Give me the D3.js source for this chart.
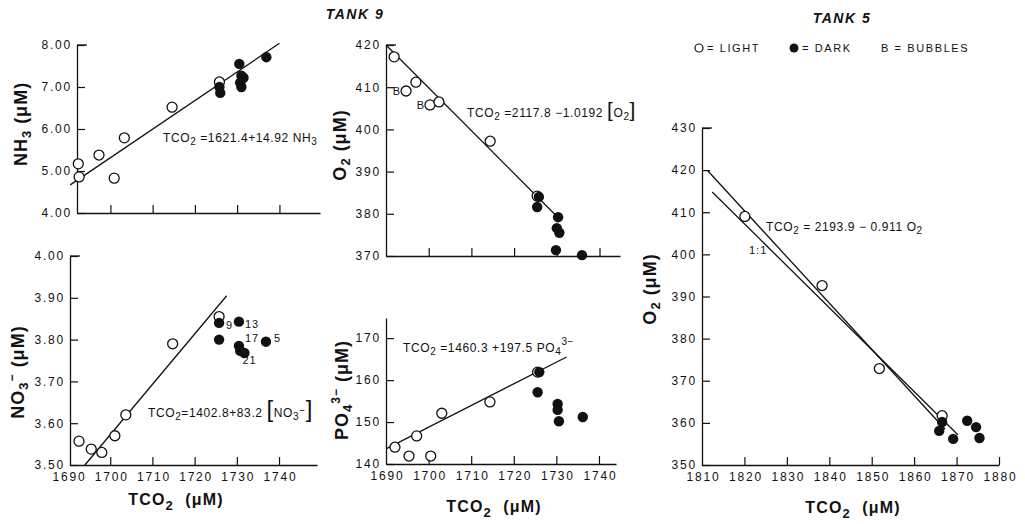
<!DOCTYPE html>
<html><head><meta charset="utf-8">
<script src="https://cdn.jsdelivr.net/npm/d3@7"></script>
<style>
body{margin:0;background:#fff;}
text{font-family:"Liberation Sans",Arial,sans-serif;fill:#111;}
</style></head>
<body>
<svg id="chart" width="1025" height="524"></svg>
<script>
// ---------- DATA ----------
// Tank 9, NH3 vs TCO2
const nh3LightTCO2 = [1692.4, 1692.6, 1697.3, 1700.9, 1703.3, 1714.6, 1725.8];
const nh3LightVal  = [5.17, 4.86, 5.38, 4.83, 5.79, 6.52, 7.12];
const nh3DarkTCO2  = [1725.8, 1726.0, 1730.5, 1731.0, 1731.5, 1730.7, 1731.0, 1736.9];
const nh3DarkVal   = [7.00, 6.86, 7.55, 7.27, 7.22, 7.10, 7.00, 7.71];
const nh3FitTCO2   = [1690.5, 1740.0];
const nh3FitVal    = [4.67, 8.04];

// Tank 9, NO3 vs TCO2
const no3LightTCO2 = [1692.6, 1695.5, 1698.0, 1701.1, 1703.7, 1714.8, 1725.8];
const no3LightVal  = [3.557, 3.538, 3.530, 3.570, 3.620, 3.790, 3.855];
const no3DarkTCO2  = [1725.8, 1725.8, 1730.5, 1730.5, 1730.8, 1731.8, 1736.9];
const no3DarkVal   = [3.840, 3.800, 3.843, 3.785, 3.773, 3.768, 3.795];
const no3DarkLabel = ["9", "", "13", "17", "", "21", "5"];
const no3FitTCO2   = [1694.0, 1727.6];
const no3FitVal    = [3.500, 3.905];

// Tank 9, O2 vs TCO2
const o2LightTCO2  = [1691.9, 1694.7, 1697.0, 1700.3, 1702.4, 1714.4, 1725.4];
const o2LightVal   = [417.2, 409.1, 411.2, 405.8, 406.5, 397.2, 384.2];
const o2LightLabel = ["", "B", "", "B", "", "", ""];
const o2DarkTCO2   = [1725.8, 1725.4, 1730.3, 1730.0, 1730.6, 1729.8, 1735.9];
const o2DarkVal    = [384.0, 381.6, 379.2, 376.6, 375.5, 371.4, 370.2];
const o2FitTCO2    = [1690.0, 1730.8];
const o2FitVal     = [420.0, 378.6];

// Tank 9, PO4 vs TCO2
const po4LightTCO2 = [1692.1, 1695.4, 1697.2, 1700.5, 1703.1, 1714.4, 1725.6];
const po4LightVal  = [144.0, 141.9, 146.7, 141.9, 152.1, 154.8, 161.9];
const po4DarkTCO2  = [1726.0, 1725.6, 1730.3, 1730.3, 1730.6, 1736.2];
const po4DarkVal   = [161.9, 157.1, 154.3, 152.9, 150.2, 151.2];
const po4FitTCO2   = [1690.0, 1732.4];
const po4FitVal    = [143.6, 165.5];

// Tank 5, O2 vs TCO2
const t5LightTCO2  = [1820.1, 1838.3, 1851.8, 1866.6];
const t5LightVal   = [409.0, 392.6, 372.9, 361.7];
const t5DarkTCO2   = [1866.6, 1865.9, 1869.2, 1872.5, 1874.6, 1875.4];
const t5DarkVal    = [360.2, 358.1, 356.2, 360.5, 359.0, 356.4];
const t5FitTCO2    = [1811.4, 1867.3];
const t5FitVal     = [419.8, 358.5];
const t5OneTCO2    = [1812.4, 1870.3];
const t5OneVal     = [414.8, 357.2];

// Tick labels
const tank9XTicks  = [1690, 1700, 1710, 1720, 1730, 1740];
const tank5XTicks  = [1810, 1820, 1830, 1840, 1850, 1860, 1870, 1880];
const nh3YTicks    = [4, 5, 6, 7, 8];
const no3YTicks    = [3.5, 3.6, 3.7, 3.8, 3.9, 4.0];
const o2YTicks     = [370, 380, 390, 400, 410, 420];
const po4YTicks    = [140, 150, 160, 170];
const t5YTicks     = [350, 360, 370, 380, 390, 400, 410, 420, 430];

// ---------- DRAW ----------
const svg = d3.select("#chart");
const zip = (a, b, c) => a.map((v, i) => ({x: v, y: b[i], l: c ? c[i] : ""}));

function panel(cfg) {
  const g = svg.append("g");
  const x = d3.scaleLinear().domain(cfg.xd).range(cfg.xr);
  const y = d3.scaleLinear().domain(cfg.yd).range(cfg.yr);
  const ya = d3.axisLeft(y).tickValues(cfg.yt).tickSizeInner(-8).tickSizeOuter(0)
    .tickPadding(5).tickFormat(cfg.yf);
  const yg = g.append("g").attr("transform", `translate(${cfg.xr[0]},0)`).call(ya);
  const xa = d3.axisBottom(x).tickValues(cfg.xt).tickSizeInner(-8).tickSizeOuter(0)
    .tickPadding(7).tickFormat(cfg.xlabels ? d3.format("d") : () => "");
  const xg = g.append("g").attr("transform", `translate(0,${cfg.yr[0]})`).call(xa);
  [yg, xg].forEach(a => {
    a.attr("font-size", 12);
    a.select(".domain").attr("stroke", "#111").attr("stroke-width", 1.3);
    a.selectAll(".tick line").attr("stroke", "#111").attr("stroke-width", 1.2);
    a.selectAll(".tick text").style("font-size", "12px").style("letter-spacing", "1.8px")
      .style("font-family", "'Liberation Sans',Arial,sans-serif").attr("fill", "#111");
  });
  xg.selectAll(".tick text").attr("dx", 1);
  xg.selectAll(".tick").filter(d => x(d) <= cfg.xr[0] + 1).select("line").remove();
  if (cfg.cap) {
    g.append("line").attr("x1", cfg.xr[0]).attr("x2", cfg.xr[0] + 10)
      .attr("y1", cfg.yr[1]).attr("y2", cfg.yr[1]).attr("stroke", "#111").attr("stroke-width", 1.3);
  }
  const line = d3.line().x(d => x(d.x)).y(d => y(d.y));
  cfg.fits.forEach(f => {
    g.append("path").datum(zip(f[0], f[1])).attr("d", line)
      .attr("fill", "none").attr("stroke", "#111").attr("stroke-width", 1.3);
  });
  g.selectAll("circle.l").data(zip(cfg.light[0], cfg.light[1], cfg.light[2])).enter()
    .append("circle").attr("cx", d => x(d.x)).attr("cy", d => y(d.y)).attr("r", 5)
    .attr("fill", "#fff").attr("stroke", "#111").attr("stroke-width", 1.3);
  g.selectAll("circle.d").data(zip(cfg.dark[0], cfg.dark[1], cfg.dark[2])).enter()
    .append("circle").attr("cx", d => x(d.x)).attr("cy", d => y(d.y)).attr("r", 5.2)
    .attr("fill", "#111");
  return {g, x, y};
}

function eqText(x, y, parts, size) {
  const t = svg.append("text").attr("x", x).attr("y", y)
    .style("font-size", (size || 12) + "px").style("letter-spacing", "0.6px");
  parts.forEach(p => {
    const s = t.append("tspan").text(p.t);
    if (p.sub) s.attr("dy", 3).style("font-size", "10px");
    if (p.sup) s.attr("dy", -6).style("font-size", "10px");
    if (p.back) s.attr("dy", p.back);
    if (p.big) s.style("font-size", p.big + "px").style("font-weight", "300");
  });
  return t;
}

function yTitle(x, y, parts, size) {
  const t = svg.append("text").attr("transform", `translate(${x},${y}) rotate(-90)`)
    .attr("text-anchor", "middle").style("font-size", (size || 18) + "px")
    .style("font-weight", "bold").style("letter-spacing", "1px");
  parts.forEach(p => {
    const s = t.append("tspan").text(p.t);
    if (p.sub) s.attr("dy", 4).style("font-size", "13px");
    if (p.sup) s.attr("dy", p.sup).style("font-size", "12px");
    if (p.dy) s.attr("dy", p.dy);
  });
}
function xTitle(x, y) {
  const t = svg.append("text").attr("x", x).attr("y", y).attr("text-anchor", "middle")
    .style("font-size", "16px").style("font-weight", "bold").style("letter-spacing", "1.2px");
  t.append("tspan").text("TCO");
  t.append("tspan").text("2").attr("dy", 5).style("font-size", "13px");
  t.append("tspan").text("\u00a0\u00a0(\u03bcM)").attr("dy", -5);
}

// Top-left NH3
panel({xd: [1692.1, 1749.6], xr: [77, 320], yd: [4, 8], yr: [213, 45], cap: true,
  xt: tank9XTicks.slice(1), yt: nh3YTicks, yf: d3.format(".2f"), xlabels: false,
  fits: [[nh3FitTCO2, nh3FitVal]], light: [nh3LightTCO2, nh3LightVal], dark: [nh3DarkTCO2, nh3DarkVal]});

// Bottom-left NO3
const pNO3 = panel({xd: [1690.47, 1749.0], xr: [70, 317], yd: [3.5, 4.0], yr: [465, 256], cap: true,
  xt: tank9XTicks, yt: no3YTicks, yf: d3.format(".2f"), xlabels: true,
  fits: [[no3FitTCO2, no3FitVal]], light: [no3LightTCO2, no3LightVal], dark: [no3DarkTCO2, no3DarkVal, no3DarkLabel]});
const no3Off = {"9": [7, 6], "13": [6, 6], "17": [6, -4], "21": [-2, 11], "5": [8, 0]};
pNO3.g.selectAll("text.lab").data(zip(no3DarkTCO2, no3DarkVal, no3DarkLabel).filter(d => d.l)).enter()
  .append("text").attr("x", d => pNO3.x(d.x) + no3Off[d.l][0]).attr("y", d => pNO3.y(d.y) + no3Off[d.l][1])
  .style("font-size", "11px").style("letter-spacing", "1px").text(d => d.l);

// Top-middle O2
const pO2 = panel({xd: [1690, 1744.8], xr: [386, 620], yd: [370, 420], yr: [256, 45], cap: true,
  xt: tank9XTicks.slice(1), yt: o2YTicks, yf: d3.format("d"), xlabels: false,
  fits: [[o2FitTCO2, o2FitVal]], light: [o2LightTCO2, o2LightVal, o2LightLabel], dark: [o2DarkTCO2, o2DarkVal]});
pO2.g.selectAll("text.b").data(zip(o2LightTCO2, o2LightVal, o2LightLabel).filter(d => d.l)).enter()
  .append("text").attr("x", d => pO2.x(d.x) - 6).attr("y", d => pO2.y(d.y) + 4)
  .attr("text-anchor", "end").style("font-size", "11px").text(d => d.l);

// Bottom-middle PO4
panel({xd: [1690, 1744], xr: [386, 616], yd: [140, 174.8], yr: [464, 318], cap: false,
  xt: tank9XTicks, yt: po4YTicks, yf: d3.format("d"), xlabels: true,
  fits: [[po4FitTCO2, po4FitVal]], light: [po4LightTCO2, po4LightVal], dark: [po4DarkTCO2, po4DarkVal]});

// Right Tank 5
panel({xd: [1810, 1880], xr: [702, 999], yd: [350, 430], yr: [465, 128], cap: true,
  xt: tank5XTicks, yt: t5YTicks, yf: d3.format("d"), xlabels: true,
  fits: [[t5FitTCO2, t5FitVal], [t5OneTCO2, t5OneVal]], light: [t5LightTCO2, t5LightVal], dark: [t5DarkTCO2, t5DarkVal]});
svg.append("text").attr("x", 749).attr("y", 254).style("font-size", "11px").style("letter-spacing", "1px").text("1:1");

// Equations
eqText(163, 142, [{t: "TCO"}, {t: "2", sub: 1}, {t: " =1621.4+14.92 NH", back: -3}, {t: "3", sub: 1}]);
eqText(148, 417, [{t: "TCO"}, {t: "2", sub: 1}, {t: "=1402.8+83.2 ", back: -3}, {t: "[", big: 24}, {t: "NO"},
  {t: "3", sub: 1}, {t: "\u2212", sup: 1}, {t: "]", big: 24, back: 3}]);
eqText(467, 117, [{t: "TCO"}, {t: "2", sub: 1}, {t: " =2117.8 \u22121.0192 ", back: -3}, {t: "[", big: 21}, {t: "O"},
  {t: "2", sub: 1}, {t: "]", big: 21, back: -3}]);
eqText(403, 352, [{t: "TCO"}, {t: "2", sub: 1}, {t: " =1460.3 +197.5 PO", back: -3}, {t: "4", sub: 1},
  {t: "3\u2212", sup: 1, back: -10}]);
eqText(766, 231, [{t: "TCO"}, {t: "2", sub: 1}, {t: " = 2193.9 \u2212 0.911 O", back: -3}, {t: "2", sub: 1}]);

// Axis titles
yTitle(27, 124, [{t: "NH"}, {t: "3", sub: 1}, {t: " (\u03bcM)", dy: -4}]);
yTitle(24, 372, [{t: "NO"}, {t: "3", sub: 1}, {t: "\u2212", sup: -12}, {t: "  (\u03bcM)", dy: 8}]);
yTitle(346, 145, [{t: "O"}, {t: "2", sub: 1}, {t: " (\u03bcM)", dy: -4}]);
yTitle(348, 390, [{t: "PO"}, {t: "4", sub: 1}, {t: "3\u2212", sup: -12}, {t: " (\u03bcM)", dy: 8}]);
yTitle(656, 289, [{t: "O"}, {t: "2", sub: 1}, {t: "  (\u03bcM)", dy: -4}]);
xTitle(176, 505);
xTitle(494, 512);
xTitle(853, 513);

// Titles
svg.append("text").attr("x", 355).attr("y", 19).attr("text-anchor", "middle")
  .style("font-size", "14px").style("font-weight", "bold").style("font-style", "italic")
  .style("letter-spacing", "1.5px").text("TANK 9");
svg.append("text").attr("x", 842).attr("y", 23).attr("text-anchor", "middle")
  .style("font-size", "14px").style("font-weight", "bold").style("font-style", "italic")
  .style("letter-spacing", "1.5px").text("TANK 5");

// Legend
svg.append("circle").attr("cx", 699).attr("cy", 48).attr("r", 4).attr("fill", "#fff").attr("stroke", "#111").attr("stroke-width", 1.2);
svg.append("text").attr("x", 707).attr("y", 52).style("font-size", "11px").style("letter-spacing", "1.6px").text("= LIGHT");
svg.append("circle").attr("cx", 794).attr("cy", 48).attr("r", 4.5).attr("fill", "#111");
svg.append("text").attr("x", 802).attr("y", 52).style("font-size", "11px").style("letter-spacing", "1.6px").text("= DARK");
svg.append("text").attr("x", 881).attr("y", 52).style("font-size", "11px").style("letter-spacing", "1.6px").text("B = BUBBLES");
</script>
</body></html>
